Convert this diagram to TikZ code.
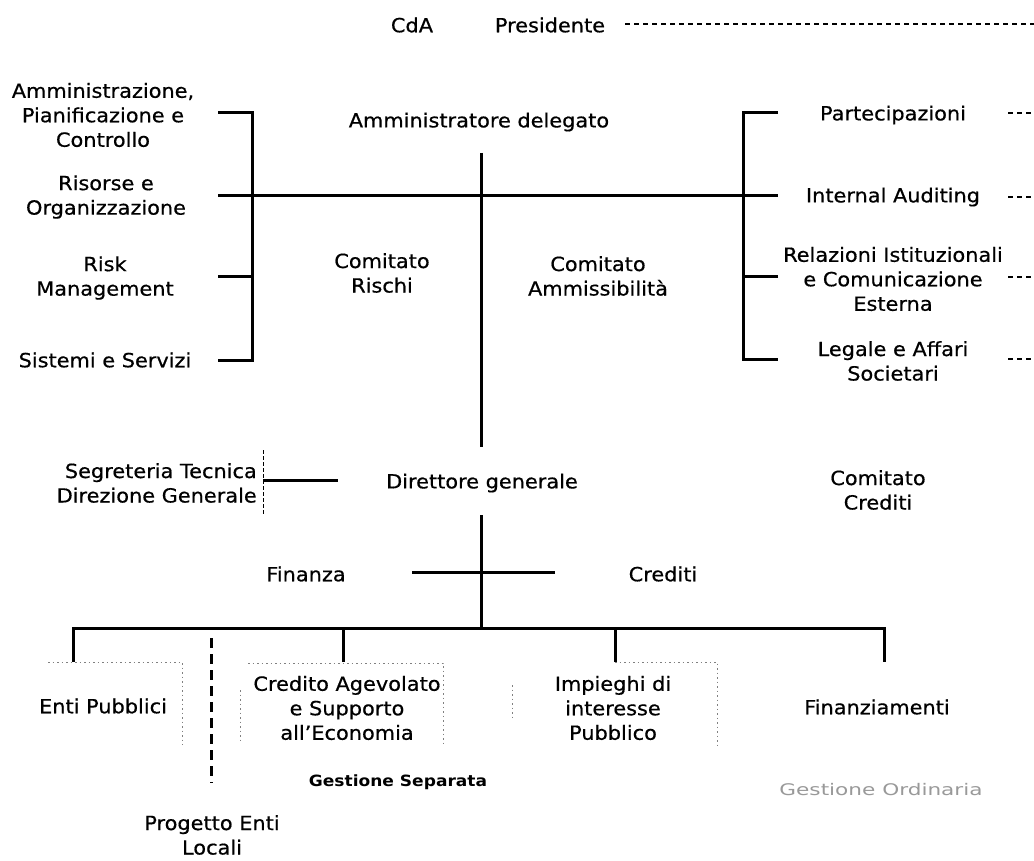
\documentclass[tikz,border=0pt]{standalone}
\usepackage{fontspec}
\setmainfont{DejaVu Sans}[FakeStretch=1.07, FakeBold=0.6]
\newfontfamily\wideface{DejaVu Sans}[FakeStretch=1.35]
\newfontfamily\sepface{DejaVu Sans Bold}[FakeStretch=1.1]
\tikzset{
  unit/.style={align=center, inner sep=0pt, font=\fontsize{19.5}{24.5}\selectfont},
  link/.style={line width=3pt},
  tie/.style={line width=1.5pt, dash pattern=on 5pt off 4pt},
  split/.style={line width=3pt, dash pattern=on 10pt off 6pt},
  sep/.style={line width=0.9pt, dash pattern=on 4pt off 2pt},
  frame/.style={black!50, line width=0.9pt, dash pattern=on 1.5pt off 3pt},
}
\begin{document}
\begin{tikzpicture}[x=1pt,y=-1pt]
  \useasboundingbox (0,0) rectangle (1034,861);
  \path[unit]
    (412,25) node (cda){CdA}
    (550,25) node (pres){Presidente}
    (479,122) node (ad){Amministratore delegato}
    (103,115) node (apc){Amministrazione,\\Pianificazione e\\Controllo}
    (106,197) node (ro){Risorse e\\Organizzazione}
    (105,278) node (rm){Risk\\Management}
    (105,360) node (ss){Sistemi e Servizi}
    (382,273) node (cr){Comitato\\Rischi}
    (598,276) node (cam){Comitato\\Ammissibilità}
    (893,115) node (part){Partecipazioni}
    (893,197) node (ia){Internal Auditing}
    (893,279) node (ric){Relazioni Istituzionali\\e Comunicazione\\Esterna}
    (893,361) node (laf){Legale e Affari\\Societari}
    (257,483) node[anchor=east, align=right] (std){Segreteria Tecnica\\Direzione Generale}
    (482,483) node (dg){Direttore generale}
    (878,490) node (cc){Comitato\\Crediti}
    (306,574) node (fin){Finanza}
    (663,574) node (cred){Crediti}
    (103,706) node (ep){Enti Pubblici}
    (347,708) node (cae){Credito Agevolato\\e Supporto\\all’Economia}
    (613,708) node (ip){Impieghi di\\interesse\\Pubblico}
    (877,707) node (fnz){Finanziamenti}
    (212,835) node (pel){Progetto Enti\\Locali};
  \node[inner sep=0pt, font=\fontsize{15.5}{17}\selectfont\sepface] (gs) at (398,782) {Gestione Separata};
  \node[inner sep=0pt, text=black!40, font=\fontsize{16}{18}\selectfont\wideface] (go) at (881,790) {Gestione Ordinaria};

  % Amministratore delegato
  \coordinate (adtop) at (481,153);
  \coordinate (adbot) at (481,447);
  \coordinate (lb1) at (252,113);
  \coordinate (lb4) at (252,360);
  \coordinate (ls1) at (218,113);
  \coordinate (ls2) at (218,196);
  \coordinate (ls3) at (218,277);
  \coordinate (ls4) at (218,360);
  \coordinate (rb1) at (743,113);
  \coordinate (rb4) at (743,359);
  \coordinate (rs1) at (778,113);
  \coordinate (rs2) at (778,196);
  \coordinate (rs3) at (778,277);
  \coordinate (rs4) at (778,359);
  \draw[link] (adtop) -- (adbot);
  \draw[link] (ls1) -- (lb1) -- (lb4) -- (ls4);
  \draw[link] (ls3) -- (ls3 -| lb1);
  \draw[link] (ls2) -- (rs2);
  \draw[link] (rs1) -- (rb1) -- (rb4) -- (rs4);
  \draw[link] (rs3) -- (rs3 -| rb1);

  % Presidente
  \coordinate (pa) at (625,24);
  \coordinate (pb) at (1034,24);
  \draw[tie] (pa) -- (pb);
  \foreach \n/\y in {part/113, ia/197, ric/277, laf/359} {
    \coordinate (\n-a) at (1008,\y);
    \coordinate (\n-b) at (1034,\y);
    \draw[tie] (\n-a) -- (\n-b);
  }

  % Direttore generale
  \coordinate (sga) at (263,480);
  \coordinate (sgb) at (338,480);
  \coordinate (sgt) at (263,450);
  \coordinate (sgu) at (263,515);
  \draw[link] (sga) -- (sgb);
  \draw[sep] (sgt) -- (sgu);
  \coordinate (dgtop) at (481,515);
  \coordinate (dgbot) at (481,628);
  \coordinate (fa) at (412,572);
  \coordinate (fb) at (555,572);
  \draw[link] (dgtop) -- (dgbot);
  \draw[link] (fa) -- (fb);

  \coordinate (epc) at (73,662);
  \coordinate (caec) at (343,662);
  \coordinate (ipc) at (615,662);
  \coordinate (fnzc) at (884,662);
  \draw[link] (epc) -- (epc |- dgbot) -- (fnzc |- dgbot) -- (fnzc);
  \draw[link] (caec) -- (caec |- dgbot);
  \draw[link] (ipc) -- (ipc |- dgbot);

  % Gestione Separata
  \coordinate (sa) at (211,638);
  \coordinate (sb) at (211,783);
  \draw[split] (sa) -- (sb);
  \draw[frame] (48,662) -- (182,662) -- (182,745);
  \draw[frame] (248,663) -- (443,663) -- (443,745);
  \draw[frame] (240,690) -- (240,740);
  \draw[frame] (ipc) -- (717,662) -- (717,745);
  \draw[frame] (512,685) -- (512,720);
\end{tikzpicture}
\end{document}
